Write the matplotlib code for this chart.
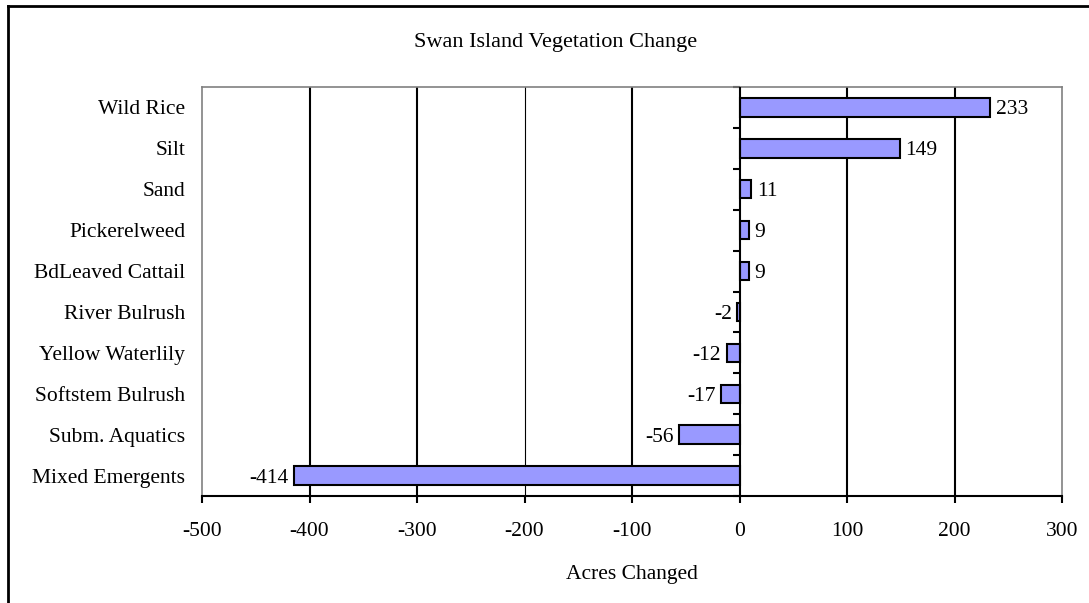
import matplotlib
matplotlib.use('Agg')
import matplotlib.pyplot as plt
from matplotlib.lines import Line2D
import numpy as np

# ── Data ─────────────────────────────────────────────────────
categories = ['Wild Rice', 'Silt', 'Sand', 'Pickerelweed', 'BdLeaved Cattail',
              'River Bulrush', 'Yellow Waterlily', 'Softstem Bulrush',
              'Subm. Aquatics', 'Mixed Emergents']
acres = [233, 149, 11, 9, 9, -2, -12, -17, -56, -414]
x_ticks = [-500, -400, -300, -200, -100, 0, 100, 200, 300]

BAR_COLOR = '#9999FF'
GRAY = '#808080'
XMIN, XMAX = -500, 300
FS = 15.5

plt.rcParams['font.family'] = ['Liberation Serif', 'DejaVu Serif']
plt.rcParams['font.size'] = FS

fig = plt.figure(figsize=(10.89, 6.03), dpi=100, facecolor='white')
ax = fig.add_axes([202 / 1089, 1 - 496 / 603, 860 / 1089, 409 / 603])

y = np.arange(len(categories))[::-1]

# gridlines (the -200 one is thinner in the original)
for xv in x_ticks[1:-1]:
    if xv == 0:
        continue
    ax.axvline(xv, color='black', lw=0.8 if xv == -200 else 1.5, zorder=1)
ax.axvline(0, color='black', lw=1.5, zorder=4)

ax.barh(y, acres, height=0.45, color=BAR_COLOR, edgecolor='black',
        linewidth=1.5, zorder=3)

for yi, v in zip(y, acres):
    if v >= 0:
        ax.annotate(str(v), (v, yi), xytext=(4, 0), textcoords='offset points',
                    ha='left', va='center_baseline', fontsize=FS)
    else:
        ax.annotate(str(v), (v, yi), xytext=(-4, 0), textcoords='offset points',
                    ha='right', va='center_baseline', fontsize=FS)

ax.set_xlim(XMIN, XMAX)
ax.set_ylim(-0.5, len(categories) - 0.5)
ax.set_xticks(x_ticks)
ax.set_xticklabels([str(t) for t in x_ticks])
ax.tick_params(axis='x', direction='out', length=5, width=1.5, pad=14)
ax.set_yticks(y)
ax.set_yticklabels(categories)
ax.tick_params(axis='y', length=0, pad=12)

# tick marks on the x = 0 axis, between categories
sec = ax.secondary_yaxis((0 - XMIN) / (XMAX - XMIN))
sec.set_yticks(np.arange(len(categories) + 1) - 0.5)
sec.set_yticklabels([])
sec.tick_params(length=5, width=1.5, direction='in', color='black')
for sp in sec.spines.values():
    sp.set_visible(False)

for side in ['left', 'top', 'right']:
    ax.spines[side].set_color(GRAY)
    ax.spines[side].set_linewidth(1.2)
ax.spines['bottom'].set_color('black')
ax.spines['bottom'].set_linewidth(1.5)
ax.spines['bottom'].set_zorder(5)

ax.set_xlabel('Acres Changed', fontsize=FS, labelpad=17)
fig.text(556 / 1089, 1 - 42 / 603, 'Swan Island Vegetation Change',
         ha='center', va='center', fontsize=16)

# outer chart border (left and top edges visible)
fig.add_artist(Line2D([8 / 1089, 8 / 1089], [0, 1 - 6 / 603], color='black', lw=2,
                      transform=fig.transFigure))
fig.add_artist(Line2D([8 / 1089, 1], [1 - 6 / 603, 1 - 6 / 603], color='black', lw=2,
                      transform=fig.transFigure))

fig.savefig('out.png', dpi=100, facecolor='white')
plt.close()
